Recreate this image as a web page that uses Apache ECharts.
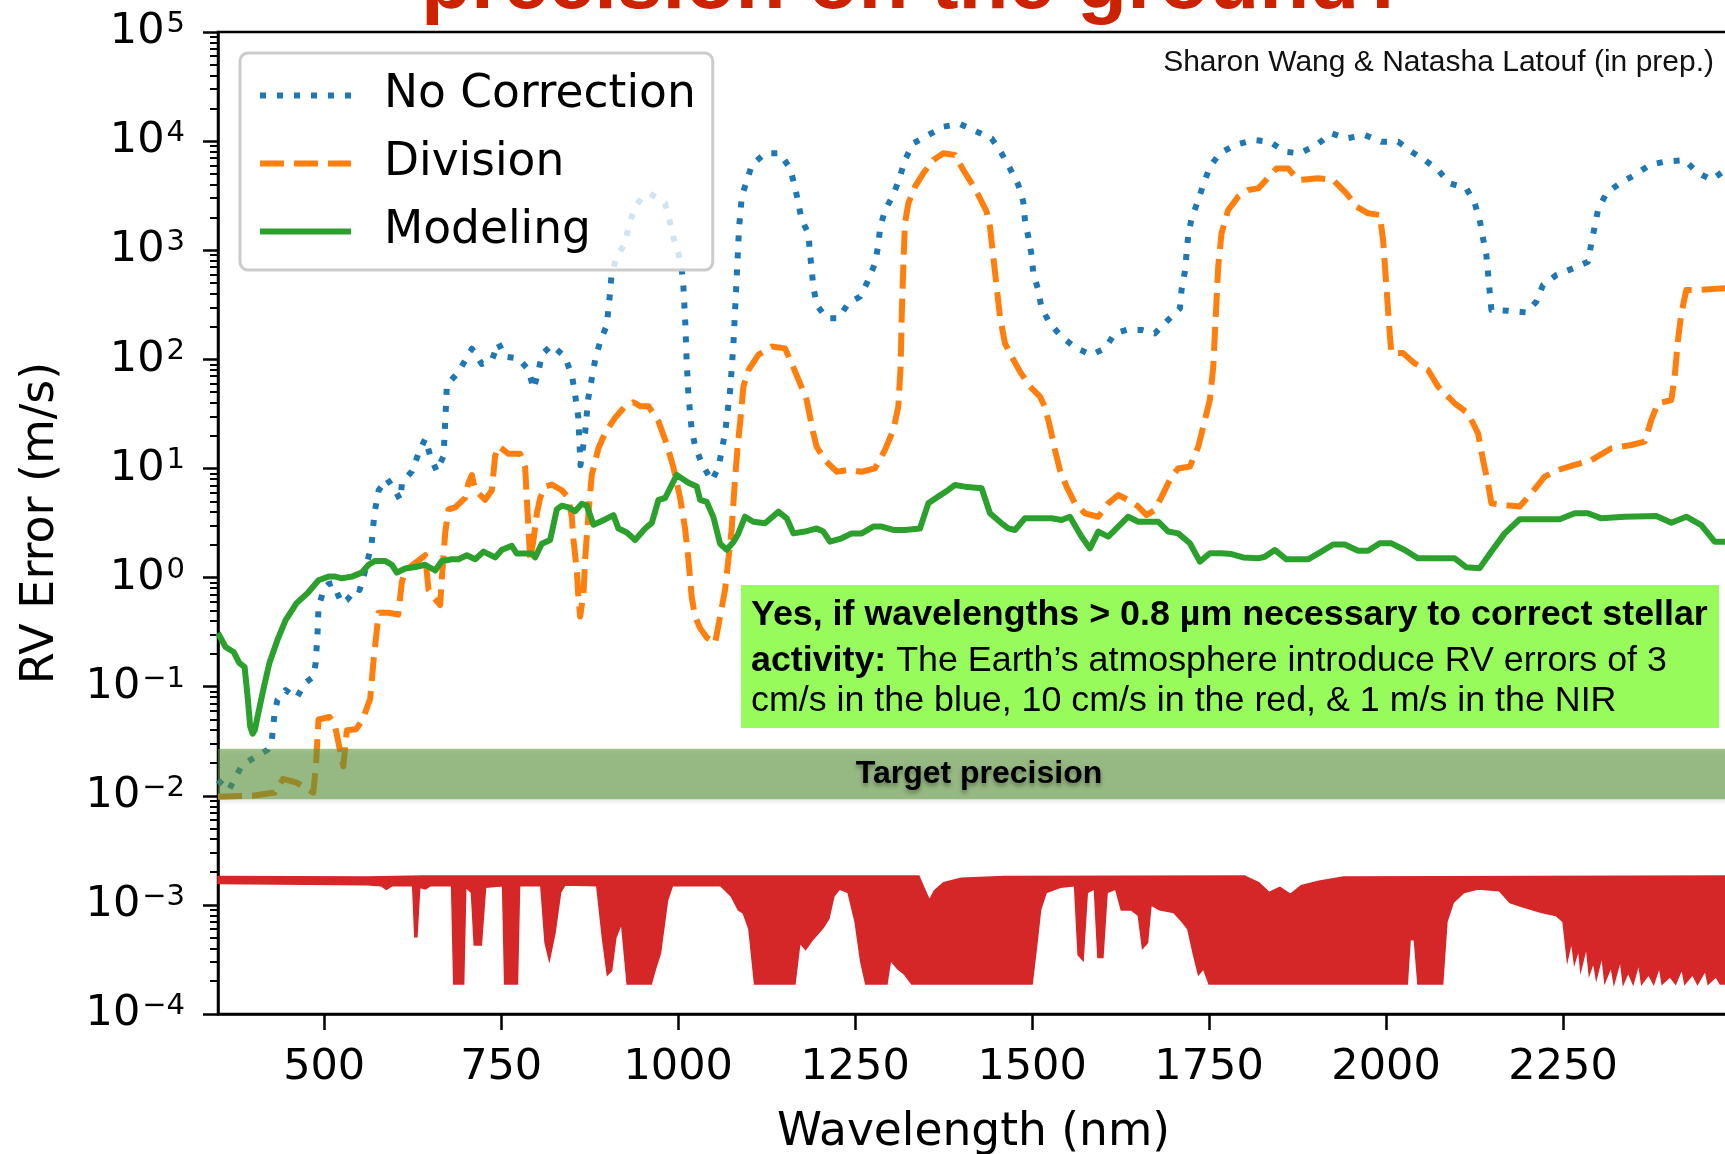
<!DOCTYPE html>
<html>
<head>
<meta charset="utf-8">
<script src="https://cdn.jsdelivr.net/npm/echarts@6/dist/echarts.min.js"></script>
<style>
  html, body { margin: 0; padding: 0; background: #ffffff; }
  #chart { width: 1725px; height: 1154px; }
</style>
</head>
<body>
<div id="chart"></div>
<script>
// RV error versus wavelength for three telluric treatments, [nm, m/s]
const noCorrection = [
  [350, 0.0139], [365, 0.0112], [384, 0.0191], [407, 0.0236], [420, 0.0263], [426, 0.0324],
  [430, 0.0574], [434, 0.0755], [445.5, 0.0931], [461, 0.0787], [473, 0.108], [484.5, 0.123],
  [488, 0.165], [490.6, 0.31], [492, 0.537], [500, 0.80], [506, 0.87], [512, 0.89], [525, 0.58],
  [532, 0.62], [546, 0.80], [550, 0.77], [558, 1.16], [567, 2.04], [570, 3.31], [572, 4.21],
  [577, 6.31], [588.6, 8.04], [600, 6.31], [607.4, 5.15], [610, 7.41], [624, 9.44], [633, 13.6],
  [642.7, 18.7], [650, 13.0], [659, 9.44], [668.6, 13.0], [671, 27.0], [673.3, 58.1], [690, 77.1],
  [708.6, 125], [722.7, 90.6], [736.8, 98.2], [746, 141], [755.6, 106], [774.5, 102], [788.6, 80.2],
  [795.7, 53.6], [802.7, 77.1], [807.4, 111], [821.5, 135], [840, 106], [850, 71.1], [854.5, 47.4],
  [859, 29.2], [862, 10.7], [868.6, 21.2], [873, 43.8], [882.7, 98.2], [890, 147], [899, 203],
  [901.6, 292], [904, 417], [906, 603], [913, 871], [925, 1148], [930, 1660], [939, 2483],
  [948.6, 3020], [960.4, 3296], [981.6, 2692], [988.6, 1799], [993.4, 1300], [1000.4, 942],
  [1005, 682], [1007.5, 457], [1010, 220], [1012, 98.2], [1014.5, 47.4], [1019, 22.9], [1024, 16.0],
  [1033.4, 11.1], [1047.5, 7.71], [1057, 10.2], [1066.3, 21.2], [1073.4, 51.3], [1078, 135],
  [1082.8, 575], [1086, 1585], [1090, 3162], [1096.9, 4246], [1103.9, 6039], [1122.8, 7727],
  [1143.9, 7727], [1158, 5623], [1165, 3828], [1169.8, 2692], [1174.5, 1892], [1184, 1429],
  [1186.3, 935], [1188.7, 659], [1191, 463], [1195.7, 315], [1209.8, 238], [1226.3, 238],
  [1240.4, 326], [1256.9, 375], [1268.7, 533], [1278.1, 759], [1282.8, 1117], [1285.2, 1585],
  [1292.2, 2339], [1304, 3206], [1313.4, 4721], [1320.4, 6714], [1332.2, 9550], [1353.4, 11376],
  [1374.6, 13552], [1398.1, 14355], [1421.6, 12218], [1442.8, 10593], [1456.9, 7727], [1468.7, 5623],
  [1480.5, 3963], [1487.5, 2786], [1489.9, 1892], [1494.6, 1330], [1499.3, 904], [1501.7, 614],
  [1508.7, 432], [1513.4, 293], [1525.2, 214], [1541.7, 161], [1562.9, 126], [1584, 110],
  [1602.9, 126], [1617, 173], [1633.5, 186], [1654.7, 186], [1673.5, 173], [1692.3, 230],
  [1708.8, 293], [1711.1, 432], [1715.8, 637], [1718.2, 935], [1720.6, 1380], [1725.3, 1959],
  [1734.7, 2884], [1741.7, 3963], [1751.2, 5834], [1765.3, 7727], [1786.4, 9204], [1812.4, 10233],
  [1835.8, 9886], [1857, 7998], [1878.1, 7727], [1901.7, 9204], [1922.9, 11776], [1944, 10593],
  [1970, 11376], [1993.5, 9886], [2017, 9886], [2035.8, 7998], [2054.6, 6714], [2073.5, 5433],
  [2089.9, 4102], [2113.5, 3690], [2125.3, 2692], [2132.3, 1892], [2137, 1285], [2141.7, 904],
  [2144.1, 614], [2146.4, 417], [2148.8, 283], [2172.3, 279], [2198.2, 269], [2212.3, 338],
  [2221.7, 480], [2240.6, 593], [2264.1, 682], [2285.3, 785], [2290, 1156], [2294.7, 1644],
  [2299.4, 2339], [2311.2, 3327], [2330, 4102], [2351.2, 4887], [2372.4, 6039], [2393.5, 6486],
  [2421.8, 6714], [2438.3, 5248], [2459.5, 4406], [2475.9, 5248], [2500, 5500]
];

const division = [
  [350, 0.0098], [399, 0.0100], [430, 0.0107], [442, 0.0143], [461, 0.0132], [484.6, 0.0107],
  [488.3, 0.0186], [492, 0.050], [507.6, 0.0527], [515, 0.0447], [527, 0.0186], [532, 0.0398],
  [545, 0.0407], [554, 0.0494], [565, 0.0774], [570, 0.181], [577, 0.476], [591, 0.476],
  [604.6, 0.457], [607.4, 0.44], [609.7, 0.908], [614.4, 1.16], [628.6, 1.36], [642.7, 1.60],
  [647.4, 0.773], [654.5, 0.658], [663.9, 0.56], [666.2, 0.984], [671, 2.59], [675.6, 4.21],
  [685, 4.39], [699.2, 5.37], [703.9, 7.41], [708.6, 8.71], [713.3, 6.31], [727.4, 5.15],
  [736.8, 6.31], [741.5, 13.0], [746.2, 16.0], [760.4, 13.6], [776.8, 13.6], [783.9, 10.2],
  [786.2, 5.37], [788.6, 2.81], [791, 1.47], [795.7, 2.21], [800.4, 3.88], [805.1, 5.37],
  [812.1, 6.84], [821.6, 7.11], [835.7, 6.31], [845.1, 5.37], [849.8, 3.58], [852.2, 2.21],
  [856.9, 1.16], [859.1, 0.658], [861.6, 0.44], [866.3, 0.713], [868.6, 1.47], [873.3, 3.88],
  [878, 8.71], [887.4, 15.3], [896.9, 21.2], [911, 29.2], [925.1, 37.2], [936.9, 40.4],
  [946.3, 37.2], [958.1, 37.2], [972.2, 27.0], [984, 16.6], [993.4, 10.2], [1002.8, 5.37],
  [1009.8, 2.81], [1014.5, 1.47], [1019.2, 0.658], [1024, 0.44], [1031, 0.344], [1040.4, 0.282],
  [1052.2, 0.249], [1059.3, 0.44], [1066.3, 0.773], [1071, 1.47], [1075.7, 2.81], [1080, 7.4],
  [1084, 15.8], [1088, 28.2], [1092.2, 56.2], [1099.2, 79.8], [1113.3, 110], [1132.2, 131],
  [1151, 126], [1160.4, 91.8], [1172.2, 60.3], [1181.6, 42.4], [1186.3, 29.9], [1191, 21.0],
  [1195.7, 15.8], [1207.5, 11.9], [1224, 9.33], [1240.4, 9.68], [1259.3, 9.33], [1278.1, 10.0],
  [1292.2, 14.8], [1304, 22.5], [1311, 36.8], [1314.3, 85.7], [1315.8, 246], [1318.1, 706],
  [1320.4, 1762], [1325.2, 2692], [1334.6, 3828], [1346.3, 5070], [1360.5, 6714], [1374.6, 7727],
  [1391, 7464], [1402.8, 5433], [1414.6, 4102], [1424, 3206], [1435.8, 2254], [1440.5, 1644],
  [1445.2, 871], [1449.9, 463], [1454.6, 246], [1461.7, 140], [1471.1, 106], [1482.9, 77.1],
  [1497.2, 56.2], [1511.1, 45.5], [1518.1, 36.8], [1525.2, 24.2], [1532.3, 14.8], [1539.3, 9.68],
  [1548.7, 6.81], [1560.5, 4.79], [1574.7, 3.88], [1593.5, 3.61], [1607.6, 4.79], [1621.7, 5.71],
  [1635.8, 5.14], [1650, 4.47], [1661.7, 3.74], [1673.5, 4.16], [1685.3, 5.92], [1697, 8.41],
  [1706.4, 10.0], [1722.9, 10.4], [1734.7, 15.8], [1744.1, 27.8], [1751.1, 42.4], [1755.9, 85.7],
  [1758.2, 173], [1760.6, 350], [1762.9, 706], [1767.6, 1429], [1777, 2339], [1791.2, 3097],
  [1805.3, 3565], [1819.4, 3690], [1824, 3963], [1845.2, 5623], [1861.7, 5623], [1875.8, 4406],
  [1904, 4560], [1925.2, 4406], [1944, 3327], [1958.2, 2512], [1974.6, 2178], [1991.1, 2104],
  [1995.8, 1242], [2000.5, 463], [2005.2, 173], [2007.6, 114], [2024.1, 114], [2040.5, 91.8],
  [2059.4, 79.8], [2073.5, 56.2], [2097, 39.5], [2115.8, 32.0], [2130, 21.0], [2137, 11.9],
  [2144.1, 7.31], [2148.8, 4.79], [2167.6, 4.62], [2188.8, 4.47], [2205.3, 5.92], [2224.1, 8.41],
  [2243, 9.68], [2266.5, 10.8], [2290, 11.9], [2318.2, 15.3], [2346.5, 16.4], [2365.3, 17.6],
  [2374.7, 27.8], [2384.1, 39.5], [2403, 42.4], [2407.7, 69.3], [2412.4, 150], [2417.1, 264],
  [2424.2, 432], [2440.6, 432], [2478.3, 448], [2500, 448]
];

const modeling = [
  [350, 0.31], [360.7, 0.231], [372, 0.208], [380, 0.165], [387.6, 0.151], [392, 0.079],
  [395.5, 0.043], [399, 0.037], [402, 0.040], [407, 0.0575], [414.8, 0.099], [422.6, 0.165],
  [434, 0.268], [445.5, 0.408], [461, 0.583], [476.7, 0.721], [492, 0.944], [506, 1.02],
  [515.6, 1.02], [525, 0.984], [539, 1.02], [553, 1.11], [562.7, 1.31], [572, 1.42], [586, 1.42],
  [595.6, 1.31], [602.7, 1.11], [614.4, 1.21], [628.6, 1.25], [642.7, 1.31], [656.8, 1.16],
  [666.2, 1.42], [680.3, 1.47], [689.7, 1.47], [701.5, 1.60], [713.3, 1.47], [725, 1.73],
  [741.5, 1.53], [751, 1.80], [765, 1.95], [772.1, 1.66], [793.3, 1.66], [798, 1.53], [807.4, 2.04],
  [819.2, 2.21], [828.6, 4.21], [835.7, 4.56], [845.1, 4.39], [854.5, 4.05], [864, 4.75],
  [871, 4.56], [880.4, 3.05], [892.2, 3.30], [908.6, 3.73], [915.7, 2.81], [927.5, 2.59],
  [939.2, 2.21], [953.4, 2.81], [962.8, 3.17], [972.2, 5.15], [981.6, 5.36], [998, 8.71],
  [1014.5, 7.41], [1026.3, 6.84], [1031, 5.15], [1040.4, 4.94], [1049.8, 3.58], [1059.3, 2.04],
  [1068.6, 1.80], [1078.1, 2.12], [1085.1, 2.54], [1094.5, 3.61], [1106.3, 3.25], [1122.8, 3.14],
  [1141.6, 4.02], [1153.4, 3.49], [1162.8, 2.54], [1179.2, 2.64], [1195.7, 2.82], [1205.1, 2.64],
  [1214.5, 2.13], [1231, 2.29], [1245.1, 2.54], [1259.3, 2.54], [1275.7, 2.93], [1287.5, 2.93],
  [1304, 2.73], [1320.4, 2.73], [1341.6, 2.82], [1353.4, 4.79], [1367.5, 5.52], [1381.6, 6.35],
  [1391.1, 7.06], [1405.2, 6.81], [1428.7, 6.58], [1440.5, 3.88], [1456.9, 3.14], [1466.4, 2.82],
  [1475.8, 2.73], [1489.9, 3.49], [1508.7, 3.49], [1527.6, 3.49], [1541.7, 3.37], [1553.4, 3.61],
  [1569.9, 2.37], [1581.7, 1.85], [1593.5, 2.64], [1607.6, 2.37], [1621.7, 2.93], [1635.8, 3.61],
  [1650, 3.25], [1664.1, 3.25], [1678.2, 3.25], [1692.3, 2.64], [1706.4, 2.54], [1722.9, 2.06],
  [1737, 1.40], [1751.1, 1.67], [1767.6, 1.67], [1781.7, 1.64], [1798.2, 1.53], [1819.4, 1.50],
  [1828.7, 1.55], [1842.8, 1.79], [1859.3, 1.47], [1889.9, 1.47], [1908.7, 1.73], [1925.2, 2.01],
  [1941.7, 2.01], [1960.5, 1.76], [1974.6, 1.76], [1991.1, 2.06], [2007.6, 2.06], [2026.4, 1.79],
  [2045.2, 1.50], [2073.5, 1.50], [2097, 1.50], [2113.5, 1.24], [2132.3, 1.22], [2148.8, 1.73],
  [2167.6, 2.54], [2188.8, 3.42], [2219.4, 3.42], [2245.3, 3.42], [2266.5, 3.88], [2285.3, 3.88],
  [2304.1, 3.49], [2337.1, 3.61], [2381.8, 3.66], [2403, 3.18], [2424.2, 3.61], [2445.3, 3.03],
  [2464.2, 2.13], [2478.3, 2.13], [2500, 2.13]
];

// Scaled telluric transmission, drawn as a filled band between these envelopes, [nm, value]
const telluricUpper = [
  [350, 1.82e-3], [560, 1.80e-3], [640, 1.84e-3], [1340, 1.84e-3], [1348, 1.4e-3], [1355, 1.1e-3],
  [1362, 1.35e-3], [1375, 1.6e-3], [1400, 1.75e-3], [1460, 1.82e-3], [1800, 1.84e-3],
  [1820, 1.6e-3], [1835, 1.3e-3], [1850, 1.45e-3], [1865, 1.25e-3], [1880, 1.5e-3], [1905, 1.65e-3],
  [1940, 1.8e-3], [2500, 1.84e-3]
];
const telluricLower = [
  [350, 1.57e-3], [560, 1.53e-3], [580, 1.50e-3], [588, 1.39e-3], [596, 1.50e-3], [625, 1.50e-3],
  [628, 5.1e-4], [631, 5.1e-4], [635, 1.45e-3], [643, 1.40e-3], [650, 1.50e-3], [680, 1.50e-3],
  [683, 1.88e-4], [697, 1.88e-4], [700, 1.45e-3], [708, 1.30e-3], [712, 4.3e-4], [722, 4.3e-4],
  [728, 1.45e-3], [752, 1.50e-3], [755, 1.88e-4], [773, 1.88e-4], [776, 1.50e-3], [806, 1.50e-3],
  [812, 4.5e-4], [818, 3.1e-4], [826, 5.5e-4], [834, 1.30e-3], [840, 1.52e-3], [885, 1.50e-3],
  [893, 5.0e-4], [900, 2.28e-4], [906, 2.5e-4], [912, 5.0e-4], [920, 6.8e-4], [928, 1.88e-4],
  [962, 1.88e-4], [968, 2.6e-4], [975, 3.6e-4], [985, 1.10e-3], [992, 1.50e-3], [1060, 1.50e-3],
  [1075, 1.20e-3], [1085, 9.0e-4], [1092, 8.4e-4], [1100, 6.0e-4], [1108, 1.88e-4], [1165, 1.88e-4],
  [1172, 4.5e-4], [1180, 3.9e-4], [1190, 4.8e-4], [1205, 6.2e-4], [1213, 7.5e-4], [1220, 1.20e-3],
  [1228, 1.40e-3], [1240, 1.30e-3], [1250, 7.0e-4], [1258, 3.0e-4], [1265, 1.88e-4], [1295, 1.88e-4],
  [1300, 3.1e-4], [1310, 2.6e-4], [1320, 2.3e-4], [1330, 1.88e-4], [1500, 1.88e-4], [1506, 4.0e-4],
  [1512, 9.0e-4], [1520, 1.30e-3], [1540, 1.45e-3], [1560, 1.50e-3], [1565, 3.5e-4], [1572, 3.1e-4],
  [1578, 1.30e-3], [1588, 1.40e-3], [1593, 3.3e-4], [1600, 3.3e-4], [1606, 1.30e-3], [1618, 1.40e-3],
  [1626, 9.0e-4], [1640, 9.0e-4], [1650, 8.0e-4], [1656, 4.0e-4], [1663, 4.5e-4], [1668, 1.00e-3],
  [1680, 9.0e-4], [1700, 8.5e-4], [1712, 7.0e-4], [1720, 6.0e-4], [1728, 3.5e-4], [1735, 2.3e-4],
  [1742, 2.6e-4], [1750, 1.88e-4], [2030, 1.88e-4], [2034, 4.8e-4], [2040, 4.8e-4], [2045, 1.88e-4],
  [2080, 1.88e-4], [2086, 7.0e-4], [2095, 1.05e-3], [2110, 1.30e-3], [2130, 1.40e-3], [2160, 1.35e-3],
  [2175, 1.05e-3], [2195, 9.5e-4], [2220, 8.5e-4], [2240, 8.0e-4], [2250, 7.0e-4], [2256, 3.1e-4],
  [2262, 4.6e-4], [2266, 2.9e-4], [2272, 3.9e-4], [2275, 2.5e-4], [2283, 4.1e-4], [2287, 2.3e-4],
  [2293, 3.0e-4], [2297, 2.1e-4], [2305, 3.4e-4], [2309, 1.95e-4], [2318, 2.7e-4], [2322, 1.9e-4],
  [2331, 3.1e-4], [2335, 1.88e-4], [2342, 2.4e-4], [2349, 1.88e-4], [2357, 2.9e-4], [2361, 1.88e-4],
  [2371, 2.3e-4], [2378, 1.88e-4], [2386, 2.7e-4], [2390, 1.88e-4], [2401, 2.2e-4], [2409, 1.88e-4],
  [2418, 2.6e-4], [2422, 1.88e-4], [2433, 2.3e-4], [2440, 1.88e-4], [2451, 2.5e-4], [2455, 1.88e-4],
  [2466, 2.2e-4], [2472, 1.88e-4], [2500, 1.88e-4]
];

// Target precision band [nm from, nm to, m/s low, m/s high]
const targetBand = [[350, 2500, 0.0093, 0.027]];

const xTicks = [500, 750, 1000, 1250, 1500, 1750, 2000, 2250];
const yTicks = [1e-4, 1e-3, 1e-2, 1e-1, 1e0, 1e1, 1e2, 1e3, 1e4, 1e5];
const yMinorTicks = [];
yTicks.slice(0, -1).forEach(function (d) {
  for (let k = 2; k <= 9; k++) yMinorTicks.push(+(d * k).toPrecision(3));
});

const AXIS_FONT = 'DejaVu Sans';
const NOTE_FONT = '"Liberation Sans", Arial, sans-serif';
const chart = echarts.init(document.getElementById('chart'), null, { renderer: 'canvas' });

function supLabel(v) {
  const e = Math.round(Math.log10(v));
  const s = e < 0 ? '\u2212' + (-e) : String(e);
  return '{b|10}{s|' + s + '}';
}

chart.setOption({
  animation: false,
  backgroundColor: '#ffffff',
  grid: {
    left: 218, top: 32, width: 1522, height: 982,
    containLabel: false, outerBoundsMode: 'none',
    show: true, borderColor: '#000', borderWidth: 2.5, backgroundColor: 'transparent'
  },
  legend: {
    orient: 'vertical', left: 240, top: 53,
    padding: [18, 17, 14, 17],
    itemWidth: 91, itemHeight: 14, itemGap: 19,
    backgroundColor: 'rgba(255,255,255,0.8)',
    borderColor: '#cccccc', borderWidth: 3, borderRadius: 8,
    itemStyle: { opacity: 0 },
    lineStyle: { width: 6 },
    textStyle: { fontFamily: AXIS_FONT, fontSize: 45.5, color: '#000', lineHeight: 49, padding: [0, 0, 0, 28] },
    data: ['No Correction', 'Division', 'Modeling'],
    z: 10
  },
  xAxis: {
    type: 'value', min: 350, max: 2500,
    name: 'Wavelength (nm)', nameLocation: 'middle', nameGap: 96,
    nameTextStyle: { fontFamily: AXIS_FONT, fontSize: 45.5, color: '#000', padding: [0, 11, 0, 0] },
    axisLine: { show: true, lineStyle: { color: '#000', width: 2.5 } },
    axisTick: { show: true, inside: false, length: 16, lineStyle: { color: '#000', width: 2.5 }, customValues: xTicks },
    axisLabel: {
      show: true, margin: 32, fontFamily: AXIS_FONT, fontSize: 43, color: '#000', customValues: xTicks,
      formatter: function (v) { return String(v); }
    },
    splitLine: { show: false }
  },
  yAxis: [{
    type: 'log', logBase: 10, min: 1e-4, max: 1e5,
    name: 'RV Error (m/s)', nameLocation: 'middle', nameGap: 154, nameRotate: 90,
    nameTextStyle: { fontFamily: AXIS_FONT, fontSize: 46, color: '#000' },
    axisLine: { show: true, lineStyle: { color: '#000', width: 2.5 } },
    axisTick: { show: true, inside: false, length: 15, lineStyle: { color: '#000', width: 2.5 }, customValues: yTicks },
    axisLabel: {
      show: true, margin: 33, customValues: yTicks, formatter: supLabel,
      rich: {
        b: { fontFamily: AXIS_FONT, fontSize: 43, color: '#000', lineHeight: 44 },
        s: { fontFamily: AXIS_FONT, fontSize: 29, color: '#000', lineHeight: 26, verticalAlign: 'top', padding: [0, 0, 0, 2] }
      }
    },
    splitLine: { show: false }
  }, {
    type: 'log', logBase: 10, min: 1e-4, max: 1e5, position: 'left', offset: 0,
    axisLine: { show: false },
    axisTick: { show: true, inside: false, length: 8, lineStyle: { color: '#000', width: 2 }, customValues: yMinorTicks },
    axisLabel: { show: false },
    splitLine: { show: false }
  }],
  series: [
    {
      name: 'telluric', type: 'custom', z: 1, silent: true,
      data: [telluricUpper[0]],
      renderItem: function (params, api) {
        const pts = [];
        telluricUpper.forEach(function (p) { pts.push(api.coord(p)); });
        for (let i = telluricLower.length - 1; i >= 0; i--) pts.push(api.coord(telluricLower[i]));
        return { type: 'polygon', shape: { points: pts }, style: { fill: '#d62728', stroke: '#d62728', lineWidth: 1.5 } };
      }
    },
    {
      name: 'No Correction', type: 'line', data: noCorrection, symbol: 'none', z: 3,
      color: '#1f77b4',
      lineStyle: { color: '#1f77b4', width: 6, type: [6, 11], cap: 'butt', join: 'round' }
    },
    {
      name: 'Division', type: 'line', data: division, symbol: 'none', z: 3,
      color: '#ff7f0e',
      lineStyle: { color: '#ff7f0e', width: 6, type: [24, 10], cap: 'butt', join: 'round' }
    },
    {
      name: 'Modeling', type: 'line', data: modeling, symbol: 'none', z: 3,
      color: '#2ca02c',
      lineStyle: { color: '#2ca02c', width: 6, type: 'solid', cap: 'butt', join: 'round' }
    },
    {
      name: 'target', type: 'custom', z: 5, silent: true,
      data: targetBand,
      encode: { x: [0, 1], y: [2, 3] },
      renderItem: function (params, api) {
        const a = api.coord([api.value(0), api.value(3)]);
        const b = api.coord([api.value(1), api.value(2)]);
        return {
          type: 'group',
          children: [{
            type: 'rect',
            shape: { x: a[0], y: a[1], width: b[0] - a[0], height: b[1] - a[1] },
            style: { fill: 'rgba(95,152,62,0.6)', shadowBlur: 4, shadowOffsetY: 3, shadowColor: 'rgba(0,0,0,0.15)' }
          }, {
            type: 'text',
            x: (a[0] + b[0]) / 2, y: (a[1] + b[1]) / 2,
            style: {
              text: 'Target precision', font: 'bold 32px ' + NOTE_FONT, fill: '#000',
              align: 'center', verticalAlign: 'middle',
              textShadowColor: 'rgba(0,0,0,0.35)', textShadowBlur: 4, textShadowOffsetY: 3
            }
          }]
        };
      }
    }
  ],
  graphic: [
    {
      type: 'text', x: 421, y: -15, z: 100,
      style: { text: 'precision on the ground?', font: 'bold 82px ' + NOTE_FONT, fill: '#cc2200', verticalAlign: 'middle' }
    },
    {
      type: 'text', x: 1714, y: 63, z: 100,
      style: { text: 'Sharon Wang & Natasha Latouf (in prep.)', font: '30px ' + NOTE_FONT, fill: '#111', align: 'right', verticalAlign: 'middle' }
    },
    {
      type: 'rect', z: 100, shape: { x: 741, y: 585, width: 978, height: 143 }, style: { fill: '#97fc5b' }
    },
    {
      type: 'text', x: 751, y: 615, z: 101,
      style: { text: 'Yes, if wavelengths > 0.8 \u00b5m necessary to correct stellar', font: 'bold 35.8px ' + NOTE_FONT, fill: '#000', verticalAlign: 'middle' }
    },
    {
      type: 'text', x: 751, y: 661, z: 101,
      style: {
        text: '{b|activity:}{r| The Earth\u2019s atmosphere introduce RV errors of 3}',
        verticalAlign: 'middle',
        rich: {
          b: { font: 'bold 35.8px ' + NOTE_FONT, fill: '#000' },
          r: { font: '35.8px ' + NOTE_FONT, fill: '#000' }
        }
      }
    },
    {
      type: 'text', x: 751, y: 701, z: 101,
      style: { text: 'cm/s in the blue, 10 cm/s in the red, & 1 m/s in the NIR', font: '35.8px ' + NOTE_FONT, fill: '#000', verticalAlign: 'middle' }
    }
  ]
});
</script>
</body>
</html>
